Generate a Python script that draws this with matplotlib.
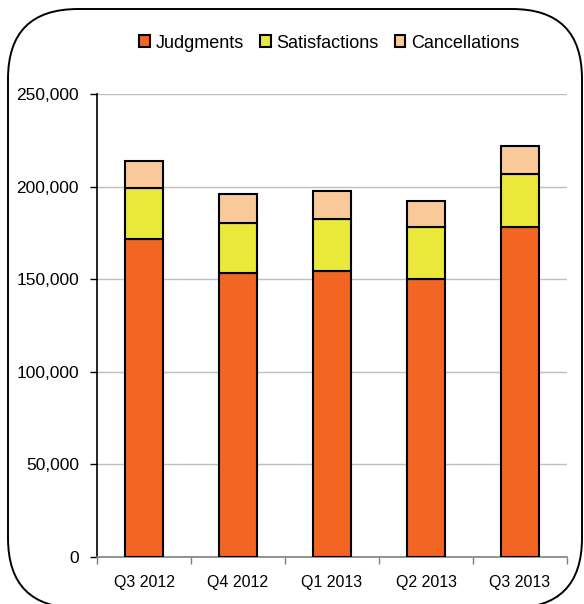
import matplotlib
matplotlib.use("Agg")
import matplotlib.pyplot as plt
from matplotlib.patches import FancyBboxPatch, Patch
from matplotlib.ticker import FuncFormatter
import numpy as np

plt.rcParams['font.family'] = ['Liberation Sans', 'DejaVu Sans']

categories = ["Q3 2012", "Q4 2012", "Q1 2013", "Q2 2013", "Q3 2013"]
judgments = [171700, 153300, 154400, 150300, 178200]
satisfactions = [27400, 27200, 27900, 27900, 28400]
cancellations = [14900, 15300, 15500, 14200, 15300]
series_names = ["Judgments", "Satisfactions", "Cancellations"]
colors = ["#F26522", "#EBE83C", "#F9C999"]

W, H = 584, 604
fig = plt.figure(figsize=(W / 100, H / 100), dpi=100)
ax = fig.add_axes([97 / W, 1 - 557 / H, (567 - 97) / W, (557 - 94) / H])

x = np.arange(len(categories))
bw = 0.41
bottom = np.zeros(len(categories))
for vals, col in zip([judgments, satisfactions, cancellations], colors):
    ax.bar(x, vals, bw, bottom=bottom, color=col, edgecolor="black", linewidth=1.5, zorder=3)
    bottom = bottom + np.array(vals)

ax.set_xlim(-0.5, len(categories) - 0.5)
ax.set_ylim(0, 250000)
ax.set_yticks(np.arange(0, 250001, 50000))
ax.yaxis.set_major_formatter(FuncFormatter(lambda v, p: f"{int(v):,}"))
ax.grid(axis="y", color="#BFBFBF", linewidth=1.0, zorder=0)
ax.set_axisbelow(True)

ax.set_xticks(x)
ax.set_xticklabels(categories)
ax.set_xticks(np.arange(-0.5, len(categories), 1.0), minor=True)
ax.tick_params(axis="x", which="major", length=0, pad=13, labelsize=11.5)
ax.tick_params(axis="x", which="minor", length=5, color="#808080", width=1)
ax.tick_params(axis="y", length=5, width=1, color="black", pad=8, labelsize=12.5)

for s in ["top", "right"]:
    ax.spines[s].set_visible(False)
ax.spines["left"].set_color("black")
ax.spines["left"].set_linewidth(1.2)
ax.spines["bottom"].set_color("#808080")
ax.spines["bottom"].set_linewidth(1.2)

handles = [Patch(facecolor=c, edgecolor="black", linewidth=1.5) for c in colors]
fig.legend(handles, series_names, loc="center", bbox_to_anchor=(329 / W, 1 - 43 / H),
           ncol=3, frameon=False, fontsize=13, handlelength=0.6, handleheight=0.6,
           handletextpad=0.3, columnspacing=0.9, borderaxespad=0)

# rounded chart border (pixel geometry -> inches)
left_px, top_px, right_px, bottom_px, r_px = 8, 9, 582, 608, 70
border = FancyBboxPatch(((left_px + r_px) / 100, (H - bottom_px + r_px) / 100),
                        (right_px - left_px - 2 * r_px) / 100,
                        (bottom_px - top_px - 2 * r_px) / 100,
                        boxstyle=f"round,pad={r_px / 100}",
                        transform=fig.dpi_scale_trans, facecolor="none",
                        edgecolor="black", linewidth=1.4, clip_on=False)
fig.patches.append(border)

fig.savefig("out.png", dpi=100)
